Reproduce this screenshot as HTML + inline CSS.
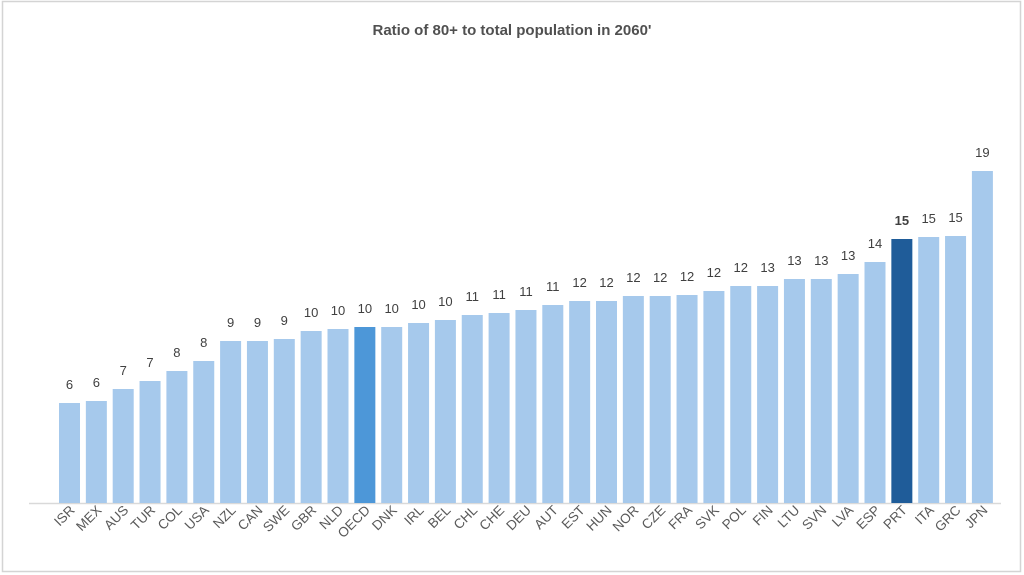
<!DOCTYPE html>
<html><head><meta charset="utf-8"><style>
html,body{margin:0;padding:0;background:#fff;}
svg{display:block;font-family:"Liberation Sans",Arial,sans-serif;}
</style></head><body>
<svg width="1024" height="575" viewBox="0 0 1024 575">
<rect x="2.5" y="1.5" width="1018" height="570" fill="#fff" stroke="#d4d4d4" stroke-width="1.5"/>
<text x="512" y="35" text-anchor="middle" font-size="15" font-weight="bold" fill="#505050">Ratio of 80+ to total population in 2060'</text>
<line x1="29" y1="503.5" x2="1001" y2="503.5" stroke="#d9d9d9" stroke-width="1.5"/>
<g id="bars"></g>
</svg>
<script>
var d=[["ISR",6,403],["MEX",6,401],["AUS",7,389],["TUR",7,381],["COL",8,371],["USA",8,361],["NZL",9,341],["CAN",9,341],["SWE",9,339],["GBR",10,331],["NLD",10,329],["OECD",10,327],["DNK",10,327],["IRL",10,323],["BEL",10,320],["CHL",11,315],["CHE",11,313],["DEU",11,310],["AUT",11,305],["EST",12,301],["HUN",12,301],["NOR",12,296],["CZE",12,296],["FRA",12,295],["SVK",12,291],["POL",12,286],["FIN",13,286],["LTU",13,279],["SVN",13,279],["LVA",13,274],["ESP",14,262],["PRT",15,239],["ITA",15,237],["GRC",15,236],["JPN",19,171]];
var g=document.getElementById("bars"),h="";
for(var i=0;i<d.length;i++){var x=59+i*26.85,c=x+10.5,col="#a6c9ec",fw="normal";
if(d[i][0]=="OECD")col="#4d97d8";if(d[i][0]=="PRT"){col="#1f5c99";fw="bold";}
h+='<rect x="'+x+'" y="'+d[i][2]+'" width="21" height="'+(503-d[i][2])+'" fill="'+col+'"/>';
h+='<text x="'+c+'" y="'+(d[i][2]-14)+'" text-anchor="middle" font-size="13" font-weight="'+fw+'" fill="#404040">'+d[i][1]+'</text>';
h+='<text transform="translate('+(c+6)+',511) rotate(-45)" text-anchor="end" font-size="13.5" fill="#595959">'+d[i][0]+'</text>';}
g.innerHTML=h;
</script>
</body></html>
